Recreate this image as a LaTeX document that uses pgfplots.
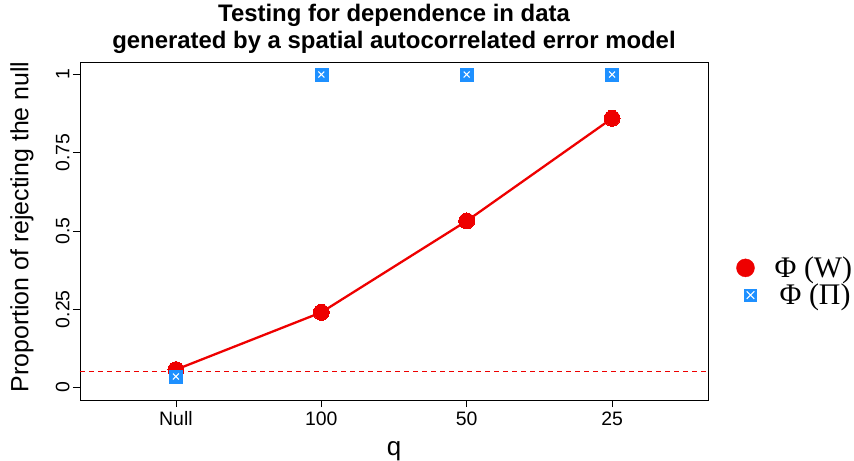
\documentclass[border=0pt]{standalone}
\usepackage{fontspec}
\setmainfont{Liberation Sans}
\newfontfamily\serifleg{Liberation Serif}
\usepackage{pgfplots}
\pgfplotsset{compat=1.18}
\definecolor{rred}{HTML}{EE0000}
\definecolor{dblue}{HTML}{1E90FF}
\begin{document}
\begin{tikzpicture}[x=1bp,y=1bp]
\begin{axis}[
  scale only axis,
  width=628bp, height=338bp,
  xmin=0.34, xmax=4.66,
  ymin=-0.04, ymax=1.04,
  xtick={1,2,3,4},
  xticklabels={Null,100,50,25},
  ytick={0,0.25,0.5,0.75,1},
  yticklabels={0,0.25,0.5,0.75,1},
  tick align=outside,
  major tick length=7bp,
  tick style={black, line width=0.6pt},
  axis line style={line width=0.6pt},
  xtick pos=bottom, ytick pos=left,
  yticklabel style={rotate=90, anchor=south, xshift=0bp},
  /pgf/number format/assume math mode=true,
  ticklabel style={font=\fontsize{19.5}{22}\selectfont},
  xticklabel style={yshift=-1bp},
  xlabel={q},
  ylabel={Proportion of rejecting the null},
  xlabel style={font=\fontsize{26}{28}\selectfont, at={(axis description cs:0.5,-0.153)}, anchor=center},
  ylabel style={font=\fontsize{25}{28}\selectfont, at={(axis description cs:-0.0924,0.512)}, anchor=center, rotate=0},
  title style={font=\bfseries\fontsize{24}{27}\selectfont, align=center, at={(axis description cs:0.5,1.0799)}, anchor=center},
  title={Testing for dependence in data\\generated by a spatial autocorrelated error model},
  clip=false,
  legend style={at={(axis description cs:1.040,0.3506)}, anchor=west, draw=none, fill=none,
    font=\serifleg\fontsize{30}{33}\selectfont, row sep=1bp},
  legend cell align=left,
]
\addplot[draw=rred, dash pattern=on 5bp off 4bp, line width=1.1pt, forget plot] coordinates {(0.34,0.05) (4.66,0.05)};
\addplot[rred, line width=2.3pt, mark=*, mark size=8bp, mark options={fill=rred, draw=rred, line width=0pt}, forget plot]
  coordinates {(1,0.057) (2,0.24) (3,0.532) (4,0.86)};
\addplot[only marks, mark=square*, mark size=6.5bp, mark options={fill=dblue, draw=dblue}, forget plot]
  coordinates {(1,0.035) (2,1) (3,1) (4,1)};
\addplot[only marks, mark=x, mark size=4.2bp, mark options={draw=white, line width=1.1pt}, forget plot]
  coordinates {(1,0.035) (2,1) (3,1) (4,1)};
\addlegendimage{legend image code/.code={
  \fill[rred] (0.3cm,0) circle (9bp);
}}
\addlegendentry{\hspace{16bp}Φ (W)}
\addlegendimage{legend image code/.code={
  \fill[dblue] (0.3cm+5bp-6bp,-6bp) rectangle (0.3cm+5bp+6bp,6bp);
  \draw[white, line width=1.1pt] (0.3cm+5bp-3.8bp,-3.8bp) -- (0.3cm+5bp+3.8bp,3.8bp) (0.3cm+5bp-3.8bp,3.8bp) -- (0.3cm+5bp+3.8bp,-3.8bp);
}}
\addlegendentry{\hspace{21bp}Φ (Π)}
\end{axis}
\pgfresetboundingbox
\path[use as bounding box] ([xshift=-80bp,yshift=-61bp]current axis.south west) rectangle ([xshift=146bp,yshift=62bp]current axis.north east);
\end{tikzpicture}
\end{document}
